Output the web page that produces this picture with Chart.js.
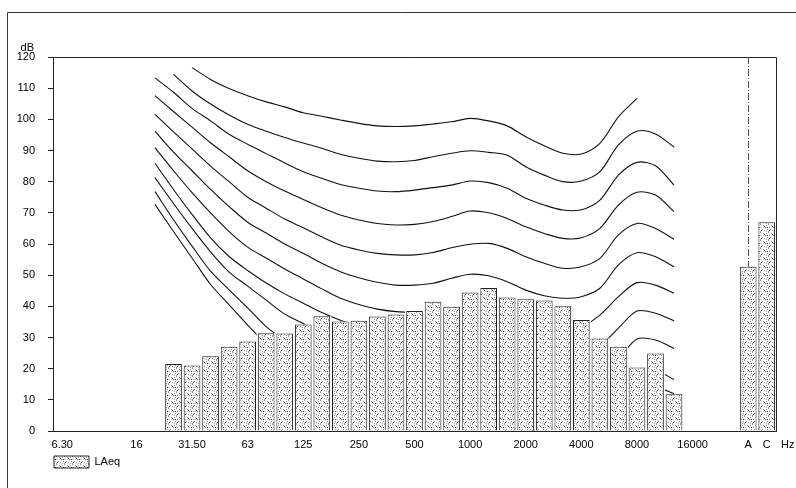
<!DOCTYPE html>
<html>
<head>
<meta charset="utf-8">
<script src="https://cdn.jsdelivr.net/npm/chart.js@4.4.1/dist/chart.umd.min.js"></script>
<style>
  html, body { margin: 0; background: #fff; }
  #wrap { width: 796px; height: 488px; }
</style>
</head>
<body>
<div id="wrap"><canvas id="spectrum" width="796" height="488"></canvas></div>
<script>
// third-octave bands, then two empty slots and the A / C totals
const bands = ['6.30','8','10','12.5','16','20','25','31.5','40','50','63','80','100','125','160',
  '200','250','315','400','500','630','800','1000','1250','1600','2000','2500','3150','4000',
  '5000','6300','8000','10000','12500','16000','','','A','C'];
const tickLabels = ['6.30','','','','16','','','31.50','','','63','','','125','','','250','','',
  '500','','','1000','','','2000','','','4000','','','8000','','','16000','','','A','C'];
const yTicks = [0, 10, 20, 30, 40, 50, 60, 70, 80, 90, 100, 110, 120];

// LAeq per band, 25 Hz .. 12500 Hz
const laeqBands = [21.5, 21.0, 24.0, 27.0, 28.7, 31.4, 31.3, 34.2, 36.8, 35.1, 35.4, 36.7, 37.4, 38.5,
  41.5, 39.9, 44.4, 45.9, 42.8, 42.3, 41.9, 40.0, 35.6, 29.7, 27.0, 20.4, 24.9, 11.8];
const laeqA = 52.7;
const laeqC = 67.0;

// contour curves, 20 Hz .. 12500 Hz
const curve100 = [null, null, 116.6, 112.8, 109.9, 107.6, 105.6, 104.0, 102.1, 101.0, 99.8, 98.7, 97.9, 97.7,
  97.9, 98.5, 99.2, 100.3, 99.5, 97.9, 94.4, 91.5, 89.1, 88.9, 92.3, 100.8, 106.7, null, null];
const curve90 = [null, 114.4, 109.1, 104.9, 101.4, 98.4, 96.2, 94.2, 92.4, 90.7, 88.8, 87.5, 86.6, 86.4,
  86.8, 88.0, 89.1, 89.9, 89.4, 88.5, 84.8, 82.1, 80.0, 80.2, 83.2, 91.8, 96.2, 95.3, 91.1];
const curve80 = [113.3, 108.7, 103.5, 99.5, 95.2, 92.0, 89.0, 86.0, 83.2, 81.1, 79.1, 77.9, 77.0, 76.8,
  77.3, 78.1, 78.9, 80.2, 79.7, 77.9, 74.7, 72.5, 70.9, 71.0, 74.1, 82.1, 86.2, 85.1, 78.9];
const curve70 = [107.6, 102.5, 97.5, 92.5, 88.0, 83.5, 80.0, 77.0, 74.3, 71.6, 69.3, 67.7, 66.6, 66.1,
  66.3, 67.2, 68.8, 70.6, 70.0, 68.2, 65.5, 63.4, 61.8, 62.0, 65.0, 72.5, 76.6, 75.7, 70.4];
const curve60 = [101.6, 96.0, 90.5, 85.0, 80.0, 75.0, 71.5, 68.0, 65.2, 62.3, 59.7, 58.1, 57.0, 56.5,
  56.5, 57.3, 58.8, 59.9, 60.2, 58.6, 55.9, 53.8, 52.2, 52.7, 55.4, 62.9, 66.6, 65.0, 61.5];
const curve50 = [96.2, 89.5, 83.5, 77.5, 72.0, 67.0, 63.5, 60.0, 57.0, 53.8, 51.1, 49.2, 47.7, 46.8,
  46.8, 47.4, 49.0, 50.3, 49.8, 47.9, 45.2, 43.4, 42.6, 43.1, 45.8, 53.3, 57.2, 55.9, 52.7];
const curve40 = [90.9, 83.5, 76.5, 70.0, 64.0, 59.0, 55.5, 52.0, 48.8, 45.6, 42.6, 40.6, 39.1, 38.3,
  38.0, 38.0, 39.0, 40.0, 40.0, 38.0, 35.5, 34.0, 33.0, 33.5, 37.2, 43.1, 47.6, 46.8, 44.2];
const curve30 = [85.9, 77.5, 69.5, 62.0, 56.0, 51.5, 47.5, 44.0, 41.0, 38.0, 35.5, 33.5, 32.0, 31.0,
  30.5, 30.0, 30.0, 30.0, 30.0, 29.0, 26.0, 24.0, 23.0, 23.0, 27.0, 33.0, 38.5, 37.8, 35.4];
const curve20 = [81.3, 73.0, 65.0, 57.5, 51.0, 46.5, 42.0, 37.5, 34.5, 31.0, 28.0, 25.5, 23.5, 22.0,
  21.0, 20.5, 20.0, 20.0, 20.0, 19.0, 16.0, 14.0, 13.0, 13.0, 17.0, 23.0, 29.5, 29.2, 26.5];
const curve10 = [76.8, 67.8, 59.3, 51.3, 45.3, 39.5, 33.5, 29.0, 25.0, 22.0, 19.0, 16.5, 14.5, 13.0,
  12.0, 11.0, 10.5, 10.0, 10.0, 9.0, 6.0, 4.0, 3.0, 3.0, 7.0, 13.0, 19.5, 19.5, 16.5];
const curve0 = [72.7, 64.0, 55.5, 47.0, 40.5, 34.0, 28.0, 24.0, 20.0, 17.0, 14.0, 11.5, 9.5, 8.0,
  7.0, 6.0, 5.0, 4.5, 4.0, 3.0, 1.0, -1.0, -3.0, -3.0, 0.0, 6.0, 12.0, 14.0, 12.0];

const curves = [curve100, curve90, curve80, curve70, curve60, curve50, curve40, curve30, curve20, curve10, curve0];

function place(values, start) {
  const out = bands.map(() => null);
  values.forEach((v, i) => { out[start + i] = v; });
  return out;
}

const barData = place(laeqBands, bands.indexOf('25'));
barData[bands.indexOf('A')] = laeqA;
barData[bands.indexOf('C')] = laeqC;

// dotted fill like the printed chart
function stipple() {
  const c = document.createElement('canvas');
  c.width = 8; c.height = 8;
  const g = c.getContext('2d');
  g.fillStyle = '#f6f6f6';
  g.fillRect(0, 0, 8, 8);
  g.fillStyle = '#9a9a9a';
  [[0,0],[3,1],[6,1],[1,3],[5,3],[2,5],[7,5],[4,6],[0,7],[6,7]].forEach(p => g.fillRect(p[0], p[1], 1, 1));
  g.fillStyle = '#333';
  [[4,2],[1,6],[7,3]].forEach(p => g.fillRect(p[0], p[1], 1, 1));
  return g.createPattern(c, 'repeat');
}

const datasets = [{
  type: 'bar',
  label: 'LAeq',
  data: barData,
  backgroundColor: stipple(),
  borderColor: '#222',
  borderWidth: 1,
  barPercentage: 0.9,
  categoryPercentage: 1.0,
  order: 0
}];
curves.forEach((c, i) => {
  datasets.push({
    type: 'line',
    label: 'curve' + (100 - i * 10),
    data: place(c, bands.indexOf('20')),
    borderColor: '#111',
    borderWidth: 1.1,
    pointRadius: 0,
    tension: 0.3,
    fill: false,
    order: 1
  });
});

const decor = {
  id: 'decor',
  afterLayout(chart) {
    const lg = chart.legend;
    const w = lg.width, h = lg.height;
    lg.left = 44; lg.top = 446;
    lg.right = lg.left + w; lg.bottom = lg.top + h;
  },
  beforeDraw(chart) {
    const ctx = chart.ctx;
    ctx.save();
    ctx.strokeStyle = '#333';
    ctx.lineWidth = 1;
    ctx.beginPath();
    ctx.moveTo(7.5, 488); ctx.lineTo(7.5, 12.5); ctx.lineTo(796, 12.5);
    ctx.stroke();
    ctx.restore();
  },
  // white gaps between bars so the curves stop at the bar tops
  beforeDatasetDraw(chart, args) {
    if (args.meta.type !== 'bar') return;
    const ctx = chart.ctx;
    ctx.save();
    ctx.fillStyle = '#fff';
    args.meta.data.forEach((el, i) => {
      if (barData[i] == null) return;
      const p = el.getProps(['x', 'y', 'base', 'width'], true);
      ctx.fillRect(p.x - p.width / 2 - 1.2, p.y, p.width + 2.4, p.base - p.y);
    });
    ctx.restore();
  },
  afterDatasetsDraw(chart) {
    const ctx = chart.ctx;
    const a = chart.chartArea;
    const x = chart.scales.x, y = chart.scales.y;
    ctx.save();
    ctx.strokeStyle = '#222';
    ctx.lineWidth = 1;
    ctx.beginPath();
    ctx.moveTo(a.left, a.top + 0.5); ctx.lineTo(a.right + 0.5, a.top + 0.5); ctx.lineTo(a.right + 0.5, a.bottom);
    ctx.stroke();
    const ax = Math.round(x.getPixelForValue(bands.indexOf('A'))) + 0.5;
    ctx.strokeStyle = '#555';
    ctx.setLineDash([7, 2, 1, 2]);
    ctx.beginPath();
    ctx.moveTo(ax, a.top); ctx.lineTo(ax, y.getPixelForValue(laeqA));
    ctx.stroke();
    ctx.setLineDash([]);
    ctx.fillStyle = '#000';
    ctx.font = '11px "Liberation Sans", Arial, sans-serif';
    ctx.textAlign = 'right';
    ctx.textBaseline = 'middle';
    ctx.fillText('dB', a.left - 19, a.top - 9);
    ctx.textAlign = 'left';
    ctx.fillText('Hz', a.right + 5, a.bottom + 14);
    ctx.restore();
  }
};

new Chart(document.getElementById('spectrum'), {
  data: { labels: bands, datasets: datasets },
  plugins: [decor],
  options: {
    responsive: false,
    animation: false,
    devicePixelRatio: 1,
    layout: { padding: { left: 8, right: 20, top: 57, bottom: 35 } },
    plugins: {
      tooltip: { enabled: false },
      legend: {
        position: 'chartArea',
        align: 'start',
        labels: {
          boxWidth: 35,
          boxHeight: 12,
          padding: 10,
          color: '#000',
          font: { family: '"Liberation Sans", Arial, sans-serif', size: 11 },
          filter: item => item.datasetIndex === 0
        }
      }
    },
    scales: {
      x: {
        type: 'category',
        offset: true,
        grid: { display: false, drawTicks: false },
        border: { display: true, color: '#222', width: 1 },
        afterFit: s => { s.height = 22; },
        ticks: {
          autoSkip: false,
          maxRotation: 0,
          padding: 7,
          color: '#000',
          font: { family: '"Liberation Sans", Arial, sans-serif', size: 11 },
          callback: (v, i) => tickLabels[i]
        }
      },
      y: {
        min: yTicks[0],
        max: yTicks[yTicks.length - 1],
        afterFit: s => { s.width = 45; },
        afterBuildTicks: s => { s.ticks = yTicks.map(v => ({ value: v })); },
        grid: { display: true, drawOnChartArea: false, drawTicks: true, tickLength: 5, color: '#222' },
        border: { display: true, color: '#222', width: 1 },
        ticks: {
          padding: 13,
          color: '#000',
          font: { family: '"Liberation Sans", Arial, sans-serif', size: 11 }
        }
      }
    }
  }
});
</script>
</body>
</html>
